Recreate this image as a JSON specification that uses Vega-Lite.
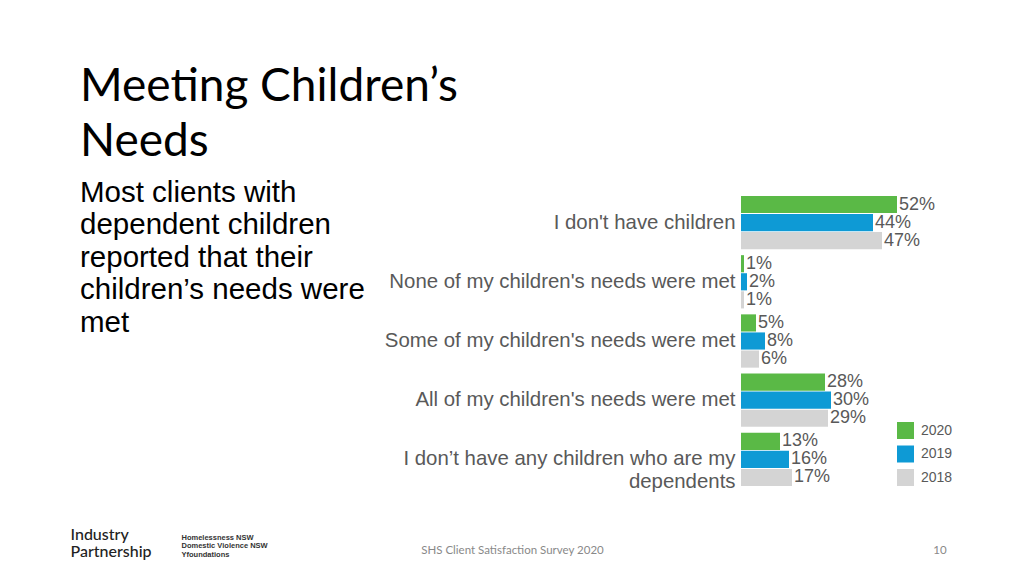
{
  "$schema": "https://vega.github.io/schema/vega-lite/v6.json",
  "autosize": {"type": "none"},
  "padding": {"left": 741, "top": 193, "right": 24, "bottom": 87},
  "width": 259,
  "height": 296,
  "background": "white",
  "title": {
    "text": ["Meeting Children’s", "Needs"],
    "subtitle": ["Most clients with", "dependent children", "reported that their", "children’s needs were", "met"],
    "anchor": "start",
    "frame": "group",
    "dx": -661,
    "dy": 145,
    "font": "Lato",
    "fontSize": 46,
    "fontWeight": "normal",
    "color": "#000000",
    "lineHeight": 55.4,
    "subtitleFont": "Liberation Sans",
    "subtitleFontSize": 29.5,
    "subtitleLineHeight": 32.5,
    "subtitleColor": "#000000",
    "subtitlePadding": 12.5,
    "offset": 0
  },
  "data": {
    "values": [
      {"category": "I don't have children", "year": "2020", "value": 0.52},
      {"category": "I don't have children", "year": "2019", "value": 0.44},
      {"category": "I don't have children", "year": "2018", "value": 0.47},
      {"category": "None of my children's needs were met", "year": "2020", "value": 0.01},
      {"category": "None of my children's needs were met", "year": "2019", "value": 0.02},
      {"category": "None of my children's needs were met", "year": "2018", "value": 0.01},
      {"category": "Some of my children's needs were met", "year": "2020", "value": 0.05},
      {"category": "Some of my children's needs were met", "year": "2019", "value": 0.08},
      {"category": "Some of my children's needs were met", "year": "2018", "value": 0.06},
      {"category": "All of my children's needs were met", "year": "2020", "value": 0.28},
      {"category": "All of my children's needs were met", "year": "2019", "value": 0.30},
      {"category": "All of my children's needs were met", "year": "2018", "value": 0.29},
      {"category": "I don’t have any children who are my dependents", "year": "2020", "value": 0.13},
      {"category": "I don’t have any children who are my dependents", "year": "2019", "value": 0.16},
      {"category": "I don’t have any children who are my dependents", "year": "2018", "value": 0.17}
    ]
  },
  "encoding": {
    "y": {
      "field": "category",
      "type": "nominal",
      "sort": null,
      "scale": {"paddingInner": 0.1, "paddingOuter": 0.05}
    },
    "yOffset": {
      "field": "year",
      "type": "nominal",
      "sort": ["2020", "2019", "2018"],
      "scale": {"paddingInner": 0.05, "paddingOuter": 0}
    },
    "x": {
      "field": "value",
      "type": "quantitative",
      "scale": {"domain": [0, 0.86333], "nice": false, "zero": true}
    }
  },
  "layer": [
    {
      "mark": {"type": "bar"},
      "encoding": {
        "color": {
          "field": "year",
          "type": "nominal",
          "sort": ["2020", "2019", "2018"],
          "scale": {"domain": ["2020", "2019", "2018"], "range": ["#5AB946", "#0E9AD5", "#D4D4D4"]},
          "legend": {
            "orient": "none",
            "legendX": 156,
            "legendY": 229,
            "title": null,
            "symbolType": "square",
            "symbolSize": 289,
            "symbolStrokeWidth": 0,
            "symbolOpacity": 1,
            "labelFont": "Liberation Sans",
            "labelFontSize": 14,
            "labelColor": "#595959",
            "labelOffset": 7,
            "rowPadding": 6.5,
            "padding": 0
          }
        },
        "y": {
          "field": "category",
          "type": "nominal",
          "sort": null,
          "axis": {
            "orient": "left",
            "domain": false,
            "ticks": false,
            "grid": false,
            "labelFont": "Liberation Sans",
            "labelFontSize": 20.4,
            "labelColor": "#595959",
            "labelPadding": 6,
            "labelLimit": 500,
            "labelLineHeight": 23,
            "labelExpr": "datum.label == 'I don’t have any children who are my dependents' ? ['I don’t have any children who are my', 'dependents'] : datum.label",
            "title": ["Industry", "Partnership"],
            "titleAngle": 0,
            "titleAlign": "left",
            "titleBaseline": "alphabetic",
            "titleX": -671,
            "titleY": 346,
            "titleFont": "Lato",
            "titleFontSize": 16,
            "titleFontWeight": 500,
            "titleColor": "#222222",
            "titleLineHeight": 17.5
          }
        },
        "x": {
          "field": "value",
          "type": "quantitative",
          "axis": {
            "orient": "bottom",
            "domain": false,
            "ticks": false,
            "labels": false,
            "grid": false,
            "title": "SHS Client Satisfaction Survey 2020",
            "titleX": -229,
            "titleY": 64,
            "titleAlign": "center",
            "titleBaseline": "alphabetic",
            "titleFont": "Lato",
            "titleFontSize": 11.5,
            "titleFontWeight": "normal",
            "titleColor": "#898989"
          }
        }
      }
    },
    {
      "mark": {
        "type": "text",
        "align": "left",
        "baseline": "middle",
        "dx": 2,
        "font": "Liberation Sans",
        "fontSize": 18,
        "color": "#595959"
      },
      "encoding": {
        "text": {"field": "value", "type": "quantitative", "format": ".0%"},
        "y": {
          "field": "category",
          "type": "nominal",
          "sort": null,
          "axis": {
            "orient": "right",
            "domain": false,
            "ticks": false,
            "labels": false,
            "grid": false,
            "title": ["Homelessness NSW", "Domestic Violence NSW", "Yfoundations"],
            "titleAngle": 0,
            "titleAlign": "left",
            "titleBaseline": "alphabetic",
            "titleX": -819,
            "titleY": 346,
            "titleFont": "Liberation Sans",
            "titleFontSize": 7.5,
            "titleFontWeight": "bold",
            "titleColor": "#333333",
            "titleLineHeight": 8.5
          }
        },
        "x": {
          "field": "value",
          "type": "quantitative",
          "axis": {
            "orient": "top",
            "domain": false,
            "ticks": false,
            "labels": false,
            "grid": false,
            "title": "10",
            "titleX": 198.5,
            "titleY": 360,
            "titleAlign": "center",
            "titleBaseline": "alphabetic",
            "titleFont": "Lato",
            "titleFontSize": 11.5,
            "titleFontWeight": "normal",
            "titleColor": "#898989"
          }
        }
      }
    }
  ],
  "resolve": {"axis": {"x": "independent", "y": "independent"}},
  "config": {"view": {"stroke": null}}
}
